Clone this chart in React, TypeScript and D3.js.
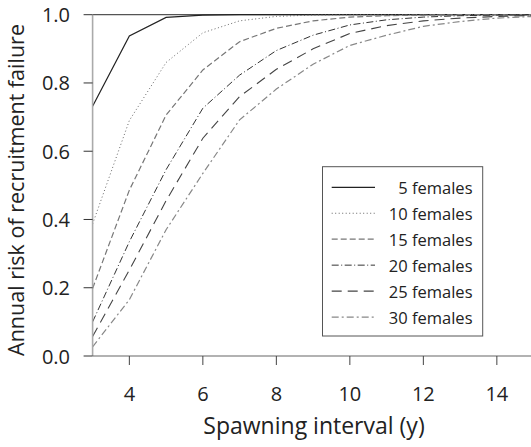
import React from "react";
import * as d3 from "d3";

const intervals = [3, 4, 5, 6, 7, 8, 9, 10, 11, 12, 13, 14, 15];
const females5 = [0.732, 0.938, 0.992, 0.999, 1, 1, 1, 1, 1, 1, 1, 1, 1];
const females10 = [0.387, 0.69, 0.86, 0.947, 0.982, 0.995, 0.999, 1, 1, 1, 1, 1, 1];
const females15 = [0.198, 0.486, 0.706, 0.838, 0.921, 0.96, 0.982, 0.993, 0.997, 0.999, 1, 1, 1];
const females20 = [0.1, 0.335, 0.546, 0.726, 0.823, 0.895, 0.94, 0.97, 0.985, 0.993, 0.997, 0.999, 1];
const females25 = [0.057, 0.252, 0.455, 0.638, 0.76, 0.84, 0.9, 0.945, 0.968, 0.982, 0.99, 0.995, 0.998];
const females30 = [0.027, 0.165, 0.37, 0.535, 0.692, 0.782, 0.855, 0.91, 0.94, 0.966, 0.98, 0.99, 0.995];
const seriesLabels = ["5 females", "10 females", "15 females", "20 females", "25 females", "30 females"];
const xTicks = [4, 6, 8, 10, 12, 14];
const yTicks = [0, 0.2, 0.4, 0.6, 0.8, 1.0];

const styles = [
  { stroke: "#222", dash: "none", width: 1.2 },
  { stroke: "#666", dash: "1,2.5", width: 1 },
  { stroke: "#777", dash: "6,3", width: 1.2 },
  { stroke: "#333", dash: "7,2.5,1,2.5", width: 1 },
  { stroke: "#444", dash: "10,6", width: 1.1 },
  { stroke: "#888", dash: "7,3,2,3", width: 1.2 },
];

const FONT = "'Open Sans', 'DejaVu Sans', sans-serif";

export default function App() {
  const W = 531;
  const H = 447;
  const x = d3.scaleLinear().domain([3, 15]).range([92.6, 533.6]);
  const y = d3.scaleLinear().domain([0, 1]).range([356, 14.7]);
  const allSeries = [females5, females10, females15, females20, females25, females30];
  const line = d3
    .line<number>()
    .x((_, i) => x(intervals[i]))
    .y((d) => y(d))
    .curve(d3.curveLinear);

  const legX = 322.5;
  const legY = 166.7;
  const legW = 160.2;
  const legH = 169.3;

  return (
    <svg
      width={W}
      height={H}
      style={{ position: "absolute", left: 0, top: 0, background: "#fff" }}
      fontFamily={FONT}
    >
      <defs>
        <clipPath id="plotclip">
          <rect x={x(3)} y={y(1) - 3} width={x(15) - x(3)} height={y(0) - y(1) + 3} />
        </clipPath>
      </defs>
      <line x1={x(3)} x2={x(15)} y1={y(1)} y2={y(1)} stroke="#555" strokeWidth={1.2} />
      <g clipPath="url(#plotclip)">
        {allSeries.map((s, i) => (
          <path
            key={i}
            d={line(s) || ""}
            fill="none"
            stroke={styles[i].stroke}
            strokeWidth={styles[i].width}
            strokeDasharray={styles[i].dash}
          />
        ))}
      </g>
      <line x1={x(3)} x2={x(3)} y1={y(0)} y2={y(1)} stroke="#aaa" strokeWidth={1.6} />
      {yTicks.map((t) => (
        <g key={t}>
          <line x1={x(3) - 9} x2={x(3)} y1={y(t)} y2={y(t)} stroke="#333" strokeWidth={1} />
          <text
            x={70}
            y={y(t)}
            textAnchor="end"
            dominantBaseline="central"
            fontSize={20}
            fill="#222"
          >
            {t.toFixed(1)}
          </text>
        </g>
      ))}
      <line x1={x(3)} x2={x(15)} y1={y(0)} y2={y(0)} stroke="#666" strokeWidth={1.2} />
      {xTicks.map((t) => (
        <g key={t}>
          <line x1={x(t)} x2={x(t)} y1={y(0)} y2={y(0) + 9} stroke="#444" strokeWidth={1} />
          <text x={x(t)} y={401} textAnchor="middle" fontSize={20} fill="#222">
            {t}
          </text>
        </g>
      ))}
      <text x={314} y={434} textAnchor="middle" fontSize={23} fill="#222">
        Spawning interval (y)
      </text>
      <text
        transform={`translate(23.5, 190) rotate(-90)`}
        textAnchor="middle"
        fontSize={21.5}
        fill="#222"
      >
        Annual risk of recruitment failure
      </text>
      <rect x={legX} y={legY} width={legW} height={legH} fill="#fff" stroke="#555" strokeWidth={1} />
      {seriesLabels.map((lab, i) => {
        const ry = 187.3 + i * 25.95;
        return (
          <g key={lab}>
            <line
              x1={331.7}
              x2={375}
              y1={ry}
              y2={ry}
              stroke={styles[i].stroke}
              strokeWidth={styles[i].width}
              strokeDasharray={styles[i].dash}
            />
            <text x={472.5} y={ry} textAnchor="end" dominantBaseline="central" fontSize={16.5} fill="#222">
              {lab}
            </text>
          </g>
        );
      })}
    </svg>
  );
}
